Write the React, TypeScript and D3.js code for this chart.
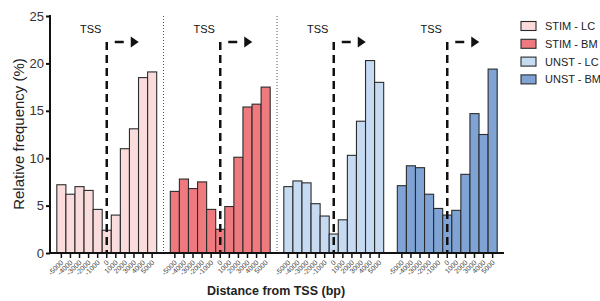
import React, { useEffect, useRef } from "react";
import * as d3 from "d3";

const bins = ["-5000", "-4000", "-3000", "-2000", "-1000", "0", "1000", "2000", "3000", "4000", "5000"];
const groups = ["STIM - LC", "STIM - BM", "UNST - LC", "UNST - BM"];
const colors = ["#fbdcdc", "#ee7a80", "#c6daf1", "#7ea3d4"];
const stimLC = [7.2, 6.2, 7.0, 6.6, 4.6, 2.4, 4.0, 11.0, 13.1, 18.5, 19.1];
const stimBM = [6.5, 7.8, 6.8, 7.5, 4.6, 2.5, 4.9, 10.1, 15.4, 15.7, 17.5];
const unstLC = [7.0, 7.6, 7.4, 5.2, 3.9, 2.0, 3.5, 10.3, 13.9, 20.3, 18.0];
const unstBM = [7.1, 9.2, 9.0, 6.2, 4.7, 4.0, 4.5, 8.3, 14.7, 12.5, 19.4];
const yTicks = [0, 5, 10, 15, 20, 25];

const App = () => {
  const svgRef = useRef<SVGSVGElement>(null);

  useEffect(() => {
    const svg = d3.select(svgRef.current);
    svg.selectAll("*").remove();
    const series = [stimLC, stimBM, unstLC, unstBM];
    const font = "'Liberation Sans', Arial, sans-serif";

    const y = d3.scaleLinear().domain([0, 25]).range([253, 16]);
    const panel = d3.scaleBand().domain(groups).range([50, 504]).paddingInner(0.12).paddingOuter(0.06);
    const bin = d3.scaleBand().domain(bins).range([0, panel.bandwidth()]);

    // dotted separators between first panels
    [0, 1].forEach((i) => {
      const xs = (panel(groups[i])! + panel.bandwidth() + panel(groups[i + 1])!) / 2;
      svg.append("line")
        .attr("x1", xs).attr("x2", xs).attr("y1", 16).attr("y2", 253)
        .attr("stroke", "#555").attr("stroke-width", 1).attr("stroke-dasharray", "1,2");
    });

    groups.forEach((g, gi) => {
      const gx = panel(g)!;
      const grp = svg.append("g").attr("transform", `translate(${gx},0)`);
      grp.selectAll("rect")
        .data(series[gi])
        .enter()
        .append("rect")
        .attr("x", (_d, i) => bin(bins[i])!)
        .attr("y", (d) => y(d))
        .attr("width", bin.bandwidth())
        .attr("height", (d) => y(0) - y(d))
        .attr("fill", colors[gi])
        .attr("stroke", "#2b2b2b")
        .attr("stroke-width", 1.1);

      // TSS marker
      const x0 = bin("0")! + bin.bandwidth() / 2;
      grp.append("line")
        .attr("x1", x0).attr("x2", x0).attr("y1", 42).attr("y2", 253)
        .attr("stroke", "#111").attr("stroke-width", 2.5).attr("stroke-dasharray", "8,5");
      grp.append("line")
        .attr("x1", x0 + 8).attr("x2", x0 + 17).attr("y1", 42).attr("y2", 42)
        .attr("stroke", "#111").attr("stroke-width", 2.5);
      grp.append("path")
        .attr("d", `M${x0 + 24},36.5L${x0 + 32},42L${x0 + 24},47.5Z`)
        .attr("fill", "#111");
      grp.append("text")
        .attr("x", x0 - 16).attr("y", 33)
        .attr("text-anchor", "middle")
        .attr("font-family", font).attr("font-size", 11)
        .attr("fill", "#111")
        .text("TSS");

      // ticks and labels
      bins.forEach((b) => {
        const tx = bin(b)! + bin.bandwidth() / 2;
        grp.append("line")
          .attr("x1", tx).attr("x2", tx).attr("y1", 253).attr("y2", 258)
          .attr("stroke", "#111").attr("stroke-width", 1.5);
        grp.append("text")
          .attr("transform", `translate(${tx + 2.5},${263}) rotate(-45)`)
          .attr("text-anchor", "end")
          .attr("font-family", font).attr("font-size", 7)
          .attr("fill", "#444")
          .text(b);
      });
    });

    // x axis line
    svg.append("line")
      .attr("x1", 49).attr("x2", 504).attr("y1", 253).attr("y2", 253)
      .attr("stroke", "#111").attr("stroke-width", 2);

    // y axis
    const yAxis = svg.append("g")
      .attr("transform", "translate(50,0)")
      .call(d3.axisLeft(y).tickValues(yTicks).tickSize(4).tickPadding(2));
    yAxis.select(".domain").attr("stroke", "#111").attr("stroke-width", 2)
      .attr("d", "M0,15V253");
    yAxis.selectAll(".tick line").attr("stroke", "#111").attr("stroke-width", 2);
    yAxis.selectAll(".tick text")
      .attr("font-family", font).attr("font-size", 13).attr("fill", "#333");

    svg.append("text")
      .attr("transform", "translate(24,134) rotate(-90)")
      .attr("text-anchor", "middle")
      .attr("font-family", font).attr("font-size", 15)
      .attr("fill", "#222")
      .text("Relative frequency (%)");

    svg.append("text")
      .attr("x", 276).attr("y", 295)
      .attr("text-anchor", "middle")
      .attr("font-family", font).attr("font-size", 12.5).attr("font-weight", "bold")
      .attr("fill", "#222")
      .text("Distance from TSS (bp)");

    // legend
    const legend = svg.append("g").attr("transform", "translate(521,0)");
    groups.forEach((g, i) => {
      const cy = 26 + i * 17.8;
      legend.append("rect")
        .attr("x", 0).attr("y", cy - 4.5).attr("width", 15).attr("height", 9)
        .attr("fill", colors[i]).attr("stroke", "#2b2b2b").attr("stroke-width", 1.1);
      legend.append("text")
        .attr("x", 24).attr("y", cy + 4)
        .attr("font-family", font).attr("font-size", 11)
        .attr("fill", "#222")
        .text(g);
    });
  }, []);

  return (
    <svg ref={svgRef} width={600} height={301}
      style={{ position: "absolute", left: 0, top: 0, background: "#fff" }} />
  );
};

export default App;
